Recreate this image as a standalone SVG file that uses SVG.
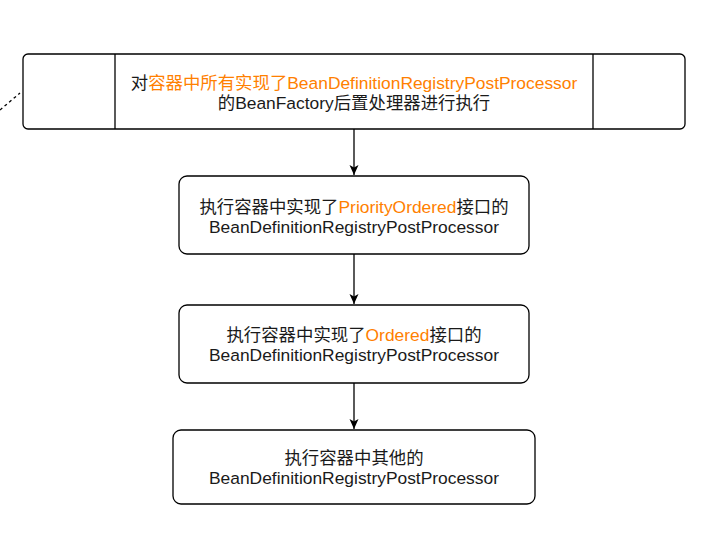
<svg xmlns="http://www.w3.org/2000/svg" width="710" height="542" viewBox="0 0 710 542">
<style>
.box{fill:#fff;stroke:#000;stroke-width:1.3}
.ln{fill:none;stroke:#000;stroke-width:1.3}
.t{font-family:"Liberation Sans","Noto Sans CJK SC",sans-serif;font-size:17.4px;fill:#1a1a1a;text-anchor:middle}
.o{fill:#FF8000}
</style>
<defs>
<marker id="arr" markerWidth="10" markerHeight="10" viewBox="0 0 10 10" refX="10" refY="5" orient="auto" markerUnits="userSpaceOnUse">
<path d="M0,0.5 L10,5 L0,9.5 L2.5,5 Z" fill="#000"/>
</marker>
</defs>
<rect width="710" height="542" fill="#fff"/>
<g id="connectors">
<line class="ln" x1="0" y1="110" x2="20" y2="93" stroke-dasharray="3 3"/>
<line class="ln" x1="354" y1="129" x2="354" y2="175" marker-end="url(#arr)"/>
<line class="ln" x1="354" y1="254" x2="354" y2="304" marker-end="url(#arr)"/>
<line class="ln" x1="354" y1="383" x2="354" y2="429" marker-end="url(#arr)"/>
</g>
<g id="node-top">
<rect class="box" x="23" y="54" width="662" height="75" rx="5"/>
<line class="ln" x1="115" y1="54" x2="115" y2="129"/>
<line class="ln" x1="593" y1="54" x2="593" y2="129"/>
<text class="t" x="354" y="89">对<tspan class="o">容器中所有实现了BeanDefinitionRegistryPostProcessor</tspan></text>
<text class="t" x="354" y="109">的BeanFactory后置处理器进行执行</text>
</g>
<g id="node-priority">
<rect class="box" x="179" y="176" width="350" height="78" rx="8"/>
<text class="t" x="354" y="213">执行容器中实现了<tspan class="o">PriorityOrdered</tspan>接口的</text>
<text class="t" x="354" y="233">BeanDefinitionRegistryPostProcessor</text>
</g>
<g id="node-ordered">
<rect class="box" x="179" y="305" width="350" height="78" rx="8"/>
<text class="t" x="354" y="341">执行容器中实现了<tspan class="o">Ordered</tspan>接口的</text>
<text class="t" x="354" y="361">BeanDefinitionRegistryPostProcessor</text>
</g>
<g id="node-other">
<rect class="box" x="173" y="430" width="362" height="74" rx="8"/>
<text class="t" x="354" y="464">执行容器中其他的</text>
<text class="t" x="354" y="484">BeanDefinitionRegistryPostProcessor</text>
</g>
</svg>
